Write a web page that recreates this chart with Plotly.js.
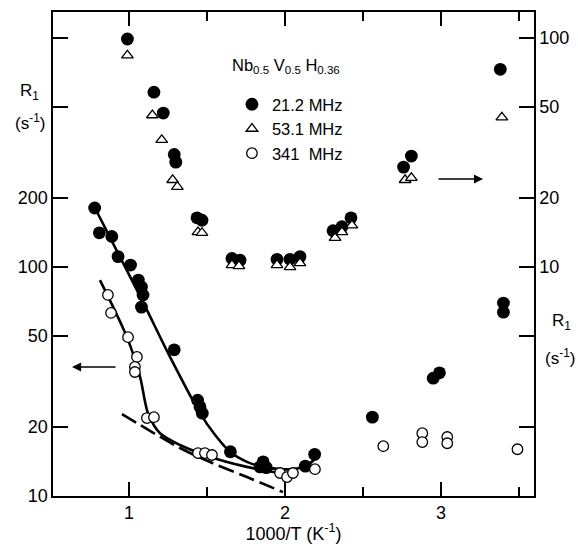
<!DOCTYPE html>
<html><head><meta charset="utf-8">
<script src="https://cdn.plot.ly/plotly-3.0.1.min.js"></script>
<style>html,body{margin:0;padding:0;background:#fff}#chart{width:578px;height:544px}</style>
</head><body><div id="chart"></div>
<script>
const FONT = 'Liberation Sans, Arial, Helvetica, sans-serif';

// ---- Left axis (R1, s^-1): low branch ----
const f21LowX = [0.78, 0.81, 0.89, 0.93, 1.01, 1.06, 1.08, 1.09, 1.08, 1.29, 1.44, 1.455, 1.47, 1.65, 1.84, 1.86, 1.88, 2.13, 2.19, 2.56, 2.95, 2.99, 3.40, 3.40];
const f21LowY = [181, 141, 136, 111, 102, 87.7, 81.8, 75.5, 66.8, 43.5, 26.2, 24.5, 23.0, 15.6, 13.4, 14.1, 13.3, 13.5, 15.2, 22.1, 32.7, 34.5, 69.6, 63.5];

const f341X = [0.865, 0.885, 0.994, 1.051, 1.038, 1.038, 1.115, 1.16, 1.442, 1.487, 1.532, 1.968, 2.013, 2.051, 2.192, 2.63, 2.88, 2.88, 3.04, 3.04, 3.49];
const f341Y = [75.5, 63, 49.4, 40.5, 36.6, 34.8, 21.9, 22.1, 15.4, 15.4, 15.1, 12.6, 12.1, 12.6, 13.1, 16.5, 18.8, 17.2, 18.1, 17.0, 16.0];

// fitted curves (left axis)
const fit21X = [0.782, 1.083, 1.263, 1.455, 1.551, 1.647, 1.756, 1.859, 1.968, 2.051, 2.141, 2.205];
const fit21Y = [181, 71.8, 40.5, 23.0, 18.5, 15.6, 14.1, 13.4, 13.1, 13.1, 13.6, 14.8];
const fit341X = [0.814, 0.987, 1.071, 1.122, 1.199, 1.327, 1.538, 1.756, 1.936, 2.064];
const fit341Y = [87.7, 49.4, 33.1, 23.0, 18.8, 16.7, 14.7, 13.4, 12.7, 12.5];
const dashX = [0.955, 1.327, 1.538, 1.756, 1.987];
const dashY = [22.8, 16.2, 13.9, 12.1, 10.4];

// ---- Right axis (R1, s^-1): high branch ----
const f21HighX = [0.99, 1.16, 1.22, 1.29, 1.30, 1.436, 1.468, 1.66, 1.712, 1.949, 2.032, 2.096, 2.308, 2.365, 2.423, 2.76, 2.81, 3.38];
const f21HighY = [99, 58, 47, 31, 28.7, 16.4, 16.0, 10.9, 10.7, 10.8, 10.8, 11.1, 14.4, 15.0, 16.4, 27.3, 30.5, 73];
const f53X = [0.99, 1.15, 1.21, 1.28, 1.31, 1.442, 1.468, 1.66, 1.705, 1.949, 2.032, 2.096, 2.321, 2.365, 2.429, 2.77, 2.81, 3.39];
const f53Y = [84, 46, 35.9, 24, 22.4, 14.2, 14.1, 10.2, 10.1, 10.2, 10.0, 10.4, 13.4, 14.2, 15.2, 24, 24.5, 45];

const xTicks = [1, 2, 3];
const xMinor = [1.5, 2.5, 3.5];
const yLeftTicks = [10, 20, 50, 100, 200];
const yLeftUnlabeled = [500, 1000];
const yRightTicks = [10, 20, 50, 100];
const yRightUnlabeled = [1, 2, 5];

const seriesNames = ['21.2 MHz', '53.1 MHz', '341\u00a0\u00a0MHz'];

const lineStyle = {color: '#000', width: 2.6, shape: 'spline', smoothing: 0.8};
const filled = {symbol: 'circle', size: 12.8, color: '#000', line: {width: 0}};
const openC = {symbol: 'circle', size: 10.5, color: '#fff', line: {color: '#000', width: 1.3}};
const tri = {symbol: 'triangle-up', size: 10.2, color: '#fff', line: {color: '#000', width: 1.3}};

const traces = [
  {x: fit21X, y: fit21Y, mode: 'lines', line: lineStyle, showlegend: false, hoverinfo: 'skip'},
  {x: fit341X, y: fit341Y, mode: 'lines', line: lineStyle, showlegend: false, hoverinfo: 'skip'},
  {x: dashX, y: dashY, mode: 'lines', line: Object.assign({}, lineStyle, {dash: '16px,6px'}), showlegend: false, hoverinfo: 'skip'},
  {x: f21LowX, y: f21LowY, mode: 'markers', marker: filled, name: seriesNames[0], showlegend: false},
  {x: f341X, y: f341Y, mode: 'markers', marker: openC, name: seriesNames[2], showlegend: true, legendrank: 3},
  {x: f21HighX, y: f21HighY, yaxis: 'y2', mode: 'markers', marker: filled, name: seriesNames[0], showlegend: true, legendrank: 1},
  {x: f53X, y: f53Y, yaxis: 'y2', mode: 'markers', marker: tri, name: seriesNames[1], showlegend: true, legendrank: 2}
];

const axCommon = {
  showline: true, linecolor: '#000', linewidth: 1.6, ticks: 'inside', tickcolor: '#000',
  tickwidth: 1.5, showgrid: false, zeroline: false, tickfont: {family: FONT, size: 18, color: '#000'}
};

const layout = {
  width: 578, height: 544,
  margin: {l: 53, r: 44, t: 12, b: 48},
  paper_bgcolor: '#fff', plot_bgcolor: 'rgba(0,0,0,0)',
  font: {family: FONT, color: '#000'},
  xaxis: Object.assign({}, axCommon, {
    range: [0.513, 3.596], tickmode: 'array', tickvals: xTicks, ticklen: 14, mirror: 'ticks',
    minor: {tickmode: 'array', tickvals: xMinor, ticks: 'inside', ticklen: 9, tickwidth: 1.5, tickcolor: '#000', showgrid: false},
    title: {text: '1000/T (K<sup>-1</sup>)', font: {family: FONT, size: 18, color: '#000'}, standoff: 4}
  }),
  yaxis: Object.assign({}, axCommon, {
    type: 'log', range: [1, 3.1135], tickmode: 'array', tickvals: yLeftTicks, ticklen: 15,
    minor: {tickmode: 'array', tickvals: yLeftUnlabeled, ticks: 'inside', ticklen: 15, tickwidth: 1.5, tickcolor: '#000', showgrid: false}
  }),
  yaxis2: Object.assign({}, axCommon, {
    type: 'log', range: [0, 2.1135], overlaying: 'y', side: 'right', tickmode: 'array',
    tickvals: yRightTicks, ticklen: 15,
    minor: {tickmode: 'array', tickvals: yRightUnlabeled, ticks: 'inside', ticklen: 15, tickwidth: 1.5, tickcolor: '#000', showgrid: false}
  }),
  legend: {
    x: 0.372, y: 0.845, xanchor: 'left', yanchor: 'top', bgcolor: 'rgba(0,0,0,0)',
    font: {family: FONT, size: 16.5, color: '#000'}, itemwidth: 30, traceorder: 'normal'
  },
  showlegend: true,
  annotations: [
    {xref: 'paper', yref: 'paper', x: 0.368, y: 0.888, xanchor: 'left', yanchor: 'middle', showarrow: false,
     text: 'Nb<sub>0.5</sub> V<sub>0.5</sub> H<sub>0.36</sub>', font: {family: FONT, size: 16.5, color: '#000'}},
    {xref: 'paper', yref: 'paper', x: -0.073, y: 0.835, xanchor: 'left', yanchor: 'middle', showarrow: false,
     text: 'R<sub>1</sub>', font: {family: FONT, size: 17, color: '#000'}},
    {xref: 'paper', yref: 'paper', x: -0.083, y: 0.773, xanchor: 'left', yanchor: 'middle', showarrow: false,
     text: '(s<sup>-1</sup>)', font: {family: FONT, size: 17, color: '#000'}},
    {xref: 'paper', yref: 'paper', x: 1.033, y: 0.36, xanchor: 'left', yanchor: 'middle', showarrow: false,
     text: 'R<sub>1</sub>', font: {family: FONT, size: 17, color: '#000'}},
    {xref: 'paper', yref: 'paper', x: 1.019, y: 0.287, xanchor: 'left', yanchor: 'middle', showarrow: false,
     text: '(s<sup>-1</sup>)', font: {family: FONT, size: 17, color: '#000'}},
    {xref: 'paper', yref: 'paper', x: 0.0395, y: 0.2665, ax: 45, ay: 0, showarrow: true, text: '',
     arrowhead: 2, arrowsize: 1.3, arrowwidth: 1.4, arrowcolor: '#000'},
    {xref: 'paper', yref: 'paper', x: 0.894, y: 0.655, ax: -46, ay: 0, showarrow: true, text: '',
     arrowhead: 2, arrowsize: 1.3, arrowwidth: 1.4, arrowcolor: '#000'}
  ]
};

Plotly.newPlot('chart', traces, layout, {displayModeBar: false, staticPlot: true});
</script>
</body></html>
